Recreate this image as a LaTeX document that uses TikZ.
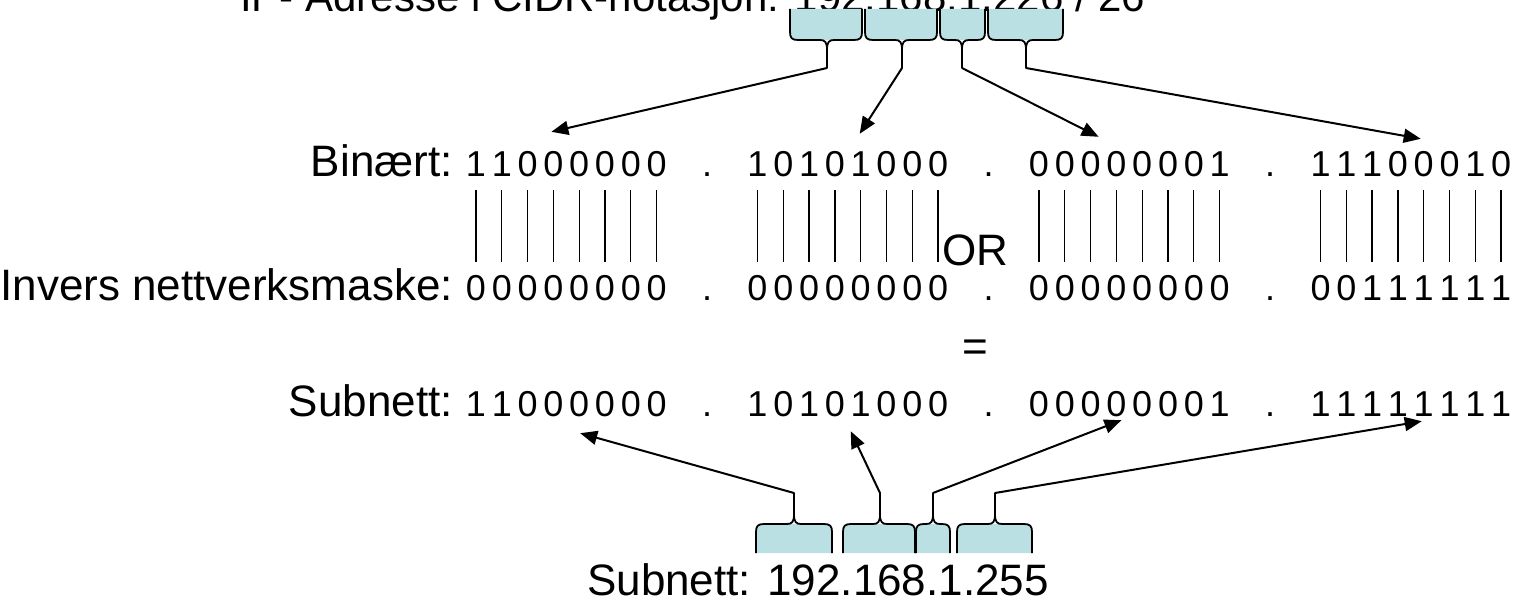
\documentclass[tikz,border=0pt]{standalone}
\usepackage{fontspec}
\setmainfont{Liberation Sans}
\usetikzlibrary{arrows.meta,calc}
\definecolor{klammeblaa}{RGB}{187,224,228}
\begin{document}
\begin{tikzpicture}[x=1pt,y=-1pt,
    lbl/.style={anchor=base east,inner sep=0pt,font=\fontsize{44}{50}\selectfont},
    bit/.style={anchor=base,inner sep=0pt,text height=26pt,text depth=0pt,font=\fontsize{36}{40}\selectfont},
    bar/.style={line width=1.3pt,shorten <=14pt,shorten >=12pt},
    pil/.style={line width=2pt,-{Triangle[length=17pt,width=14pt]}},
    klamme/.style={draw=black,line width=1.8pt,line join=round}]
    \pgfmathsetmacro{\bitx}{476}  % forste bit
    \pgfmathsetmacro{\bitd}{25.8} % avstand mellom bits
    \pgfmathsetmacro{\grpd}{281.5}  % avstand mellom bytes
    \useasboundingbox (0,0) rectangle (1519,602);
    \clip (0,0) rectangle (1519,602);

    %% tittel, kuttet i toppen
    \node[lbl,anchor=base west,font=\fontsize{42}{48}\selectfont] (tittel) at (240,12)
        {IP- Adresse i CIDR-notasjon: 192.168.1.226 / 26};

    %% klammer under tittelen
    \foreach \k/\l/\r/\c in {1/790/862/827,2/865/937/902,3/940/985/962,4/988/1063/1026}
    {
        \fill[klammeblaa] (\l,9) -- (\l,32) .. controls (\l,38) and (\l+2,40) .. (\l+8,40)
            -- (\r-8,40) .. controls (\r-2,40) and (\r,38) .. (\r,32) -- (\r,9) -- cycle;
        \draw[klamme] (\l,9) -- (\l,32) .. controls (\l,38) and (\l+2,40) .. (\l+8,40)
            -- (\c-7,40) .. controls (\c-2,40) and (\c,42) .. (\c,50) -- (\c,68)
            -- (\c,50) .. controls (\c,42) and (\c+2,40) .. (\c+7,40)
            -- (\r-8,40) .. controls (\r-2,40) and (\r,38) .. (\r,32) -- (\r,9);
        \coordinate (topp\k) at (\c,68);
    }

    %% klammer over svaret
    \foreach \k/\l/\r/\c in {1/756/832/794,2/843/915/880,3/916/950/933,4/957/1032/995}
    {
        \fill[klammeblaa] (\l,553) -- (\l,532) .. controls (\l,526) and (\l+2,524) .. (\l+8,524)
            -- (\r-8,524) .. controls (\r-2,524) and (\r,526) .. (\r,532) -- (\r,553) -- cycle;
        \draw[klamme] (\l,553) -- (\l,532) .. controls (\l,526) and (\l+2,524) .. (\l+8,524)
            -- (\c-7,524) .. controls (\c-2,524) and (\c,522) .. (\c,514) -- (\c,493)
            -- (\c,514) .. controls (\c,522) and (\c+2,524) .. (\c+7,524)
            -- (\r-8,524) .. controls (\r-2,524) and (\r,526) .. (\r,532) -- (\r,553);
        \coordinate (bunn\k) at (\c,493);
    }

    %% radene med bits
    \node[lbl] (binaert) at (453,176) {Binært:};
    \node[lbl] (invers) at (453,300) {Invers nettverksmaske:};
    \node[lbl] (subnett) at (453,416) {Subnett:};
    \foreach \rad/\y/\bits in
    {b/176/{1,1,0,0,0,0,0,0,1,0,1,0,1,0,0,0,0,0,0,0,0,0,0,1,1,1,1,0,0,0,1,0},
        m/300/{0,0,0,0,0,0,0,0,0,0,0,0,0,0,0,0,0,0,0,0,0,0,0,0,0,0,1,1,1,1,1,1},
        s/416/{1,1,0,0,0,0,0,0,1,0,1,0,1,0,0,0,0,0,0,0,0,0,0,1,1,1,1,1,1,1,1,1}}
    {
        \foreach \b [count=\n from 0] in \bits
        {
            \pgfmathtruncatemacro{\g}{\n/8+1}
            \pgfmathtruncatemacro{\j}{mod(\n,8)+1}
            \node[bit] (\rad-\g-\j) at (\bitx+\grpd*\g-\grpd+\bitd*\j-\bitd,\y) {\b};
        }
        \foreach \g in {1,2,3}
            \node[bit] (\rad-dot\g) at (\bitx+\grpd*\g-\grpd+231,\y) {.};
    };

    %% OR-strekene
    \foreach \g in {1,...,4}
        \foreach \j in {1,...,8}
            \draw[bar] (b-\g-\j) -- (m-\g-\j);
    \node[lbl,anchor=base west] (or) at (942,265) {OR};
    \node[lbl,anchor=center] (lik) at (975,351) {=};

    %% piler
    \draw[pil] (topp1) -- ($(b-1-4.north)+(-2,-18)$);
    \draw[pil] (topp2) -- ($(b-2-5.north)+(-1,-16)$);
    \draw[pil] (topp3) -- ($(b-3-3.north)+(8,-13)$);
    \draw[pil] (topp4) -- ($(b-4-5.north)+(-3,-11)$);
    \draw[pil] (bunn1) -- ($(s-1-5.south)+(1,17)$);
    \draw[pil] (bunn2) -- ($(s-2-5.south)+(-10,15)$);
    \draw[pil] (bunn3) -- ($(s-3-4.south)+(5,4)$);
    \draw[pil] (bunn4) -- ($(s-4-5.south)+(-2,5)$);

    \node[lbl,anchor=base west] (svar) at (587,595) {Subnett: 192.168.1.255};
\end{tikzpicture}
\end{document}
